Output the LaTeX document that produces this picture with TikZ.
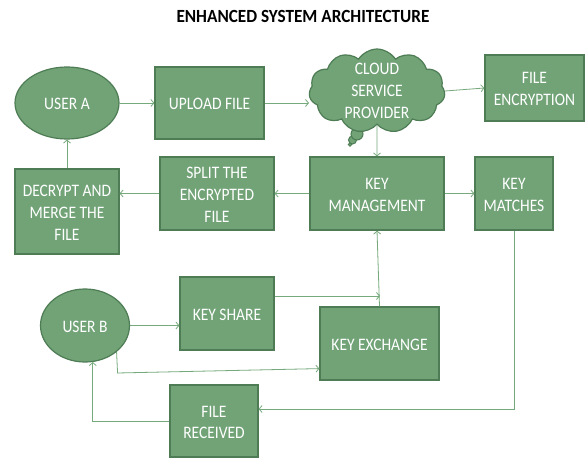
\documentclass[tikz,border=0pt]{standalone}
\usepackage{fontspec}
\setmainfont{Carlito}
\usetikzlibrary{shapes.geometric,shapes.symbols,arrows.meta}
\definecolor{boxfill}{RGB}{113,163,119}
\definecolor{boxline}{RGB}{78,124,84}
\definecolor{arrowc}{RGB}{118,170,124}
\newcommand{\talltext}[1]{\raisebox{-2.5pt}[\height][\depth]{\scalebox{1}[1.13]{\begin{tabular}{@{}c@{}}#1\end{tabular}}}}
\begin{document}
\begin{tikzpicture}[x=1pt,y=-1pt,
  box/.style={draw=boxline, fill=boxfill, line width=1.2pt, text=white, align=center,
    inner sep=0pt, font=\fontsize{15.5}{19.2}\selectfont},
  ell/.style={box, ellipse},
  conn/.style={draw=arrowc, line width=0.8pt, -{Straight Barb[length=3pt,width=7pt]}},
  bubble/.style={circle, draw=boxline, fill=boxfill, line width=1pt, inner sep=0pt}]
\useasboundingbox (0,0) rectangle (585,458);
\fill[white] (0,0) rectangle (585,458);

\node[font=\fontsize{17.2}{20}\selectfont\bfseries] (title) at (303,16) {\scalebox{1}[1.08]{ENHANCED SYSTEM ARCHITECTURE}};

% row 1
\node[ell, minimum width=104pt, minimum height=72pt] (usera) at (67,103) {\talltext{USER A}};
\node[box, minimum width=109pt, minimum height=72pt] (upload) at (209.5,103) {\talltext{UPLOAD FILE}};
\node[bubble, minimum size=3.5pt] (b3) at (350,144.5) {};
\node[bubble, minimum size=8pt] (b2) at (352.5,140) {};
\node[bubble, minimum size=12pt] (b1) at (357,134) {};
\node[cloud, cloud puffs=11, cloud puff arc=115, aspect=1.6, draw=boxline, fill=boxfill,
  line width=1.2pt, minimum width=136pt, minimum height=84pt, inner sep=0pt] (cloud) at (377,91) {};
\node[text=white, align=center, inner sep=0pt, font=\fontsize{15.5}{19.5}\selectfont] (cloudtxt) at (377,90) {\talltext{CLOUD\\SERVICE\\PROVIDER}};
\node[box, minimum width=99pt, minimum height=66pt] (fenc) at (534.5,88) {\talltext{FILE\\ENCRYPTION}};

% row 2
\node[box, minimum width=104pt, minimum height=85pt] (decrypt) at (67,211.5) {\talltext{DECRYPT AND\\MERGE THE\\FILE}};
\node[box, minimum width=114pt, minimum height=73pt] (split) at (217,193.5) {\talltext{SPLIT THE\\ENCRYPTED\\FILE}};
\node[box, minimum width=134pt, minimum height=73pt] (km) at (377,193.5) {\talltext{KEY\\MANAGEMENT}};
\node[box, minimum width=78pt, minimum height=73pt] (kmatch) at (514,193.5) {\talltext{KEY\\MATCHES}};

% row 3
\node[ell, minimum width=89pt, minimum height=73pt] (userb) at (85,325.5) {\talltext{USER B}};
\node[box, minimum width=94pt, minimum height=73pt] (kshare) at (227,313.5) {\talltext{KEY SHARE}};
\node[box, minimum width=119pt, minimum height=73pt] (kex) at (379.5,343.5) {\talltext{KEY EXCHANGE}};
\node[box, minimum width=88pt, minimum height=72pt] (frec) at (214,421) {\talltext{FILE\\RECEIVED}};

\coordinate (kjoin) at (380,296);
\coordinate (kexin) at ([yshift=12pt]kex.south west);
\coordinate (frecin) at ([yshift=12pt]frec.east);

% connectors
\draw[conn] (usera) -- (upload);
\draw[conn] (upload.east) -- (upload.east -| cloud.west);
\draw[conn] (cloud.east) -- (fenc.west);
\draw[conn] (cloud.south) -- (km.north);
\draw[conn] (km) -- (split);
\draw[conn] (split.west) -- (split.west -| decrypt.east);
\draw[conn] (km) -- (kmatch);
\draw[conn] (decrypt) -- (usera);
\draw[conn] (kex.north) -- (km.south);
\draw[conn] (kshare.east |- kjoin) -- (kjoin);
\draw[conn] (userb.east) -- (userb.east -| kshare.west);
\draw[conn] (userb.-40) -- ++(1,21) -- (kexin);
\draw[conn] (kmatch.south) |- (frecin);
\draw[conn] (frec.west) -| (userb.-78);
\end{tikzpicture}
\end{document}
